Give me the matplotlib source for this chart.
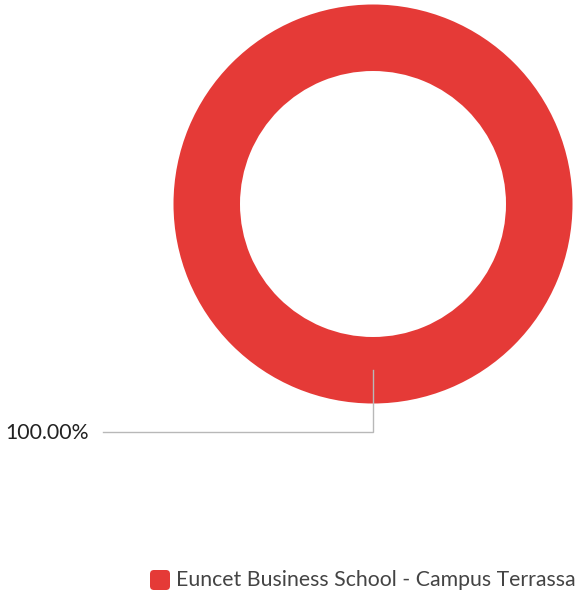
import matplotlib
matplotlib.use("Agg")
import matplotlib.pyplot as plt
from matplotlib.patches import FancyBboxPatch
import numpy as np

categories = ["Euncet Business School - Campus Terrassa"]
values = [100.0]
colors = ["#e53a37"]

W, H = 578, 592
fig = plt.figure(figsize=(W / 100, H / 100), dpi=100)
ax = fig.add_axes([0, 0, 1, 1])

cx, cy = 373, 204
r_out, r_in = 199.5, 133
total = sum(values)
wedges, _ = ax.pie(values, colors=colors, center=(cx, cy), radius=r_out,
                   startangle=90, counterclock=False,
                   wedgeprops=dict(width=r_out - r_in, linewidth=0))
ax.set_xlim(0, W)
ax.set_ylim(H, 0)
ax.set_aspect("equal")
ax.axis("off")

font = "Lato"
for i, v in enumerate(values):
    r_mid = (r_out + r_in) / 2
    x0, y0 = cx, cy + r_mid
    y1 = cy + 228
    x2 = 103
    ax.plot([x0, x0, x2], [y0, y1, y1], color="#b8b8b8", lw=1.0,
            solid_joinstyle="miter", zorder=3)
    ax.text(5, y1 + 1, f"{v / total * 100:.2f}%", fontsize=15.3, family=font,
            color="#222222", va="center", ha="left")

# legend
for i, c in enumerate(categories):
    ax.add_patch(FancyBboxPatch((150 + 2, 570 + 2), 16, 16,
                                boxstyle="round,pad=2,rounding_size=4",
                                facecolor=colors[i], edgecolor="none"))
    ax.text(176, 580, c, fontsize=15.3, family=font, color="#444444",
            va="center", ha="left")

fig.savefig("out.png", dpi=100)
